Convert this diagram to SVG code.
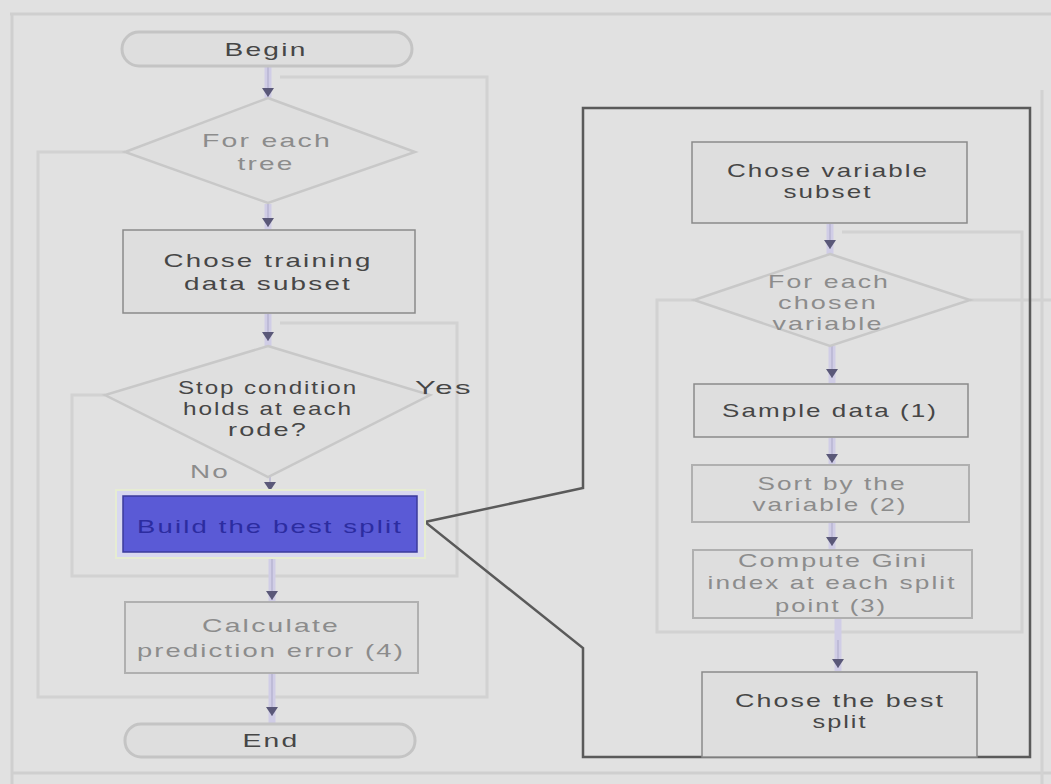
<svg xmlns="http://www.w3.org/2000/svg" width="1051" height="784" viewBox="0 0 1051 784">
<style>
.bg{fill:#e1e1e1}
.frame{fill:none;stroke:#cfcfcf;stroke-width:3}
.loop{fill:none;stroke:#d2d2d2;stroke-width:3}
.box{fill:#dedede;stroke:#8a8a8a;stroke-width:1.5}
.faintbox{fill:#dedede;stroke:#b0b0b0;stroke-width:2}
.pill{fill:#dedede;stroke:#c4c4c4;stroke-width:3}
.dia{fill:#dfdfdf;stroke:#c8c8c8;stroke-width:2.5}
text{font-family:"Liberation Sans",Arial,sans-serif;font-size:19px;letter-spacing:1.5px;text-anchor:middle}
.t{fill:#464646}
.tf{fill:#8c8c8c}
.hl{fill:#5a5ad6;stroke:#3b3b9a;stroke-width:1.5}
.th{fill:#2c2ca0}
.conn{stroke:#d0cde6;stroke-width:7;fill:none}
.cl{stroke:#b8b4d2;stroke-width:1.5;fill:none}
.callout{fill:none;stroke:#5a5a5a;stroke-width:2.5}
</style>
<defs>
<marker id="ah" markerWidth="9" markerHeight="12" refX="9" refY="6" orient="auto" markerUnits="userSpaceOnUse">
<path d="M0,0 L9,6 L0,12 Z" fill="#5a5878"/>
</marker>
</defs>
<rect class="bg" x="0" y="0" width="1051" height="784"/>
<path class="frame" d="M10,14 H1051 M12,14 V784 M12,773 H1051"/>
<g id="loops">
<path class="loop" d="M125,152 H38 V697 H487 V77 H280"/>
<path class="loop" d="M105,395 H72 V576 H457 V323 H280"/>
<path class="loop" d="M694,300 H657 V632 H1022 V232 H842"/>
<path class="loop" d="M970,300 H1051"/>
<path class="loop" d="M1042,90 V784"/>
</g>
<g id="connectors">
<line class="conn" x1="268" y1="67" x2="268" y2="98"/>
<line class="cl" x1="268" y1="67" x2="268" y2="97" marker-end="url(#ah)"/>
<line class="conn" x1="268" y1="204" x2="268" y2="229"/>
<line class="cl" x1="268" y1="204" x2="268" y2="227" marker-end="url(#ah)"/>
<line class="conn" x1="268" y1="314" x2="268" y2="346"/>
<line class="cl" x1="268" y1="314" x2="268" y2="341" marker-end="url(#ah)"/>
<line class="cl" x1="270" y1="477" x2="270" y2="491" marker-end="url(#ah)"/>
<line class="conn" x1="272" y1="556" x2="272" y2="601"/>
<line class="cl" x1="272" y1="556" x2="272" y2="600" marker-end="url(#ah)"/>
<line class="conn" x1="272" y1="674" x2="272" y2="724"/>
<line class="cl" x1="272" y1="674" x2="272" y2="716" marker-end="url(#ah)"/>
<line class="conn" x1="830" y1="224" x2="830" y2="255"/>
<line class="cl" x1="830" y1="224" x2="830" y2="249" marker-end="url(#ah)"/>
<line class="conn" x1="832" y1="346" x2="832" y2="383"/>
<line class="cl" x1="832" y1="346" x2="832" y2="378" marker-end="url(#ah)"/>
<line class="conn" x1="832" y1="438" x2="832" y2="465"/>
<line class="cl" x1="832" y1="438" x2="832" y2="463" marker-end="url(#ah)"/>
<line class="conn" x1="832" y1="523" x2="832" y2="549"/>
<line class="cl" x1="832" y1="523" x2="832" y2="546" marker-end="url(#ah)"/>
<line class="conn" x1="838" y1="619" x2="838" y2="671"/>
<line class="cl" x1="838" y1="640" x2="838" y2="668" marker-end="url(#ah)"/>
<path class="callout" d="M583,108 H1030 V757 H583 V648 L425,522 L583,488 Z"/>
</g>
<g id="begin">
<rect class="pill" x="122" y="32" width="290" height="34" rx="17"/>
<text class="t" x="266" y="56" textLength="83" lengthAdjust="spacingAndGlyphs">Begin</text>
</g>
<g id="for-each-tree">
<polygon class="dia" points="268,98 415,152 268,203 125,152"/>
<text class="tf" x="267" y="147" textLength="130" lengthAdjust="spacingAndGlyphs">For each</text>
<text class="tf" x="266" y="170" textLength="57" lengthAdjust="spacingAndGlyphs">tree</text>
</g>
<g id="chose-training">
<rect class="box" x="123" y="230" width="292" height="83"/>
<text class="t" x="268" y="267" textLength="209" lengthAdjust="spacingAndGlyphs">Chose training</text>
<text class="t" x="268" y="290" textLength="168" lengthAdjust="spacingAndGlyphs">data subset</text>
</g>
<g id="stop-condition">
<polygon class="dia" points="268,346 430,395 268,477 105,395"/>
<text class="t" x="268" y="394" textLength="180" lengthAdjust="spacingAndGlyphs">Stop condition</text>
<text class="t" x="268" y="415" textLength="170" lengthAdjust="spacingAndGlyphs">holds at each</text>
<text class="t" x="268" y="436" textLength="80" lengthAdjust="spacingAndGlyphs">rode?</text>
<text class="t" x="444" y="394" textLength="58" lengthAdjust="spacingAndGlyphs">Yes</text>
<text class="tf" x="210" y="478" textLength="40" lengthAdjust="spacingAndGlyphs">No</text>
</g>
<g id="best-split">
<rect x="116" y="490" width="309" height="68" fill="#d8d8f0" stroke="#e6ecd2" stroke-width="2"/>
<rect class="hl" x="123" y="496" width="294" height="56"/>
<text class="th" x="270" y="533" textLength="266" lengthAdjust="spacingAndGlyphs">Build the best split</text>
</g>
<g id="calculate">
<rect class="faintbox" x="125" y="602" width="293" height="71"/>
<text class="tf" x="271" y="632" textLength="138" lengthAdjust="spacingAndGlyphs">Calculate</text>
<text class="tf" x="271" y="657" textLength="268" lengthAdjust="spacingAndGlyphs">prediction error (4)</text>
</g>
<g id="end">
<rect class="pill" x="125" y="724" width="290" height="33" rx="16"/>
<text class="t" x="271" y="747" textLength="57" lengthAdjust="spacingAndGlyphs">End</text>
</g>
<g id="chose-variable">
<rect class="box" x="692" y="142" width="275" height="81"/>
<text class="t" x="828" y="177" textLength="202" lengthAdjust="spacingAndGlyphs">Chose variable</text>
<text class="t" x="828" y="198" textLength="89" lengthAdjust="spacingAndGlyphs">subset</text>
</g>
<g id="for-each-variable">
<polygon class="dia" points="830,254 970,300 830,346 694,300"/>
<text class="tf" x="829" y="288" textLength="122" lengthAdjust="spacingAndGlyphs">For each</text>
<text class="tf" x="828" y="309" textLength="100" lengthAdjust="spacingAndGlyphs">chosen</text>
<text class="tf" x="828" y="330" textLength="111" lengthAdjust="spacingAndGlyphs">variable</text>
</g>
<g id="sample-data">
<rect class="box" x="694" y="384" width="274" height="53"/>
<text class="t" x="830" y="417" textLength="216" lengthAdjust="spacingAndGlyphs">Sample data (1)</text>
</g>
<g id="sort">
<rect class="faintbox" x="692" y="465" width="277" height="57"/>
<text class="tf" x="832" y="490" textLength="149" lengthAdjust="spacingAndGlyphs">Sort by the</text>
<text class="tf" x="830" y="511" textLength="155" lengthAdjust="spacingAndGlyphs">variable (2)</text>
</g>
<g id="gini">
<rect class="faintbox" x="693" y="550" width="279" height="68"/>
<text class="tf" x="833" y="567" textLength="190" lengthAdjust="spacingAndGlyphs">Compute Gini</text>
<text class="tf" x="832" y="589" textLength="249" lengthAdjust="spacingAndGlyphs">index at each split</text>
<text class="tf" x="831" y="612" textLength="112" lengthAdjust="spacingAndGlyphs">point (3)</text>
</g>
<g id="chose-best">
<rect class="box" x="702" y="672" width="275" height="85"/>
<text class="t" x="840" y="707" textLength="210" lengthAdjust="spacingAndGlyphs">Chose the best</text>
<text class="t" x="840" y="728" textLength="55" lengthAdjust="spacingAndGlyphs">split</text>
</g>
</svg>
